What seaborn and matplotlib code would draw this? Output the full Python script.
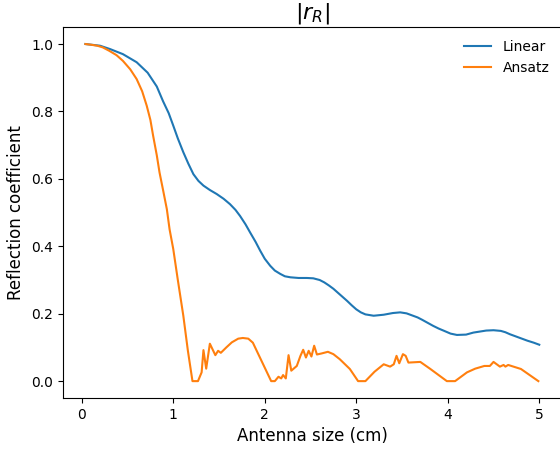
import numpy as np
import pandas as pd
import matplotlib
matplotlib.use("Agg")
from matplotlib import pyplot as plt
import seaborn as sns

# values
linear_x = [0.04, 0.2, 0.31, 0.45, 0.6, 0.72, 0.82, 0.889, 0.95, 1.0, 1.05, 1.11, 1.165, 1.22,
            1.275, 1.33, 1.4, 1.475, 1.55, 1.62, 1.68, 1.73, 1.79, 1.84, 1.9, 1.95, 2.0, 2.06,
            2.11, 2.17, 2.22, 2.28, 2.37, 2.46, 2.53, 2.6, 2.65, 2.7, 2.75, 2.8, 2.85, 2.9,
            2.95, 3.0, 3.05, 3.1, 3.19, 3.3, 3.4, 3.48, 3.55, 3.62, 3.67, 3.72, 3.78, 3.84,
            3.9, 3.97, 4.03, 4.1, 4.2, 4.28, 4.35, 4.42, 4.5, 4.58, 4.63, 4.68, 4.74, 4.8,
            4.87, 4.94, 5.0]
linear_y = [1.0, 0.995, 0.985, 0.97, 0.946, 0.915, 0.874, 0.830, 0.795, 0.758, 0.72, 0.679,
            0.645, 0.614, 0.594, 0.580, 0.567, 0.555, 0.541, 0.525, 0.508, 0.49, 0.465, 0.441,
            0.413, 0.387, 0.363, 0.342, 0.328, 0.318, 0.311, 0.308, 0.306, 0.306, 0.305, 0.300,
            0.293, 0.284, 0.274, 0.262, 0.25, 0.238, 0.225, 0.213, 0.204, 0.198, 0.194, 0.197,
            0.202, 0.204, 0.201, 0.194, 0.189, 0.182, 0.173, 0.164, 0.156, 0.148, 0.141, 0.137,
            0.138, 0.144, 0.147, 0.150, 0.151, 0.149, 0.145, 0.139, 0.133, 0.127, 0.120, 0.114,
            0.108]

ansatz_x = [0.04, 0.1, 0.17, 0.23, 0.3, 0.38, 0.45, 0.53, 0.6, 0.66, 0.71, 0.75, 0.78, 0.82,
            0.85, 0.89, 0.93, 0.96, 1.0, 1.05, 1.11, 1.16, 1.21, 1.27, 1.31, 1.33, 1.36, 1.4,
            1.46, 1.49, 1.52, 1.58, 1.64, 1.71, 1.76, 1.82, 1.87, 2.07, 2.11, 2.15, 2.18, 2.2,
            2.23, 2.26, 2.29, 2.35, 2.39, 2.42, 2.45, 2.48, 2.51, 2.54, 2.57, 2.62, 2.69, 2.75,
            2.82, 2.93, 3.02, 3.1, 3.2, 3.3, 3.37, 3.41, 3.44, 3.47, 3.51, 3.54, 3.57, 3.7,
            3.81, 3.99, 4.08, 4.21, 4.3, 4.4, 4.46, 4.5, 4.57, 4.61, 4.63, 4.66, 4.8, 4.99]
ansatz_y = [1.0, 0.998, 0.995, 0.99, 0.98, 0.967, 0.95, 0.925, 0.896, 0.86, 0.817, 0.775,
            0.728, 0.67, 0.619, 0.565, 0.51, 0.45, 0.392, 0.30, 0.194, 0.09, 0.0, 0.0, 0.026,
            0.092, 0.037, 0.111, 0.077, 0.09, 0.084, 0.10, 0.115, 0.126, 0.128, 0.126, 0.114,
            0.0, 0.0, 0.013, 0.008, 0.018, 0.008, 0.077, 0.031, 0.045, 0.075, 0.093, 0.07, 0.09,
            0.073, 0.105, 0.079, 0.082, 0.087, 0.08, 0.065, 0.036, 0.0, 0.0, 0.028, 0.05, 0.043,
            0.05, 0.075, 0.053, 0.08, 0.075, 0.055, 0.057, 0.036, 0.0, 0.0, 0.026, 0.037, 0.045,
            0.045, 0.057, 0.043, 0.048, 0.043, 0.048, 0.036, 0.0]

fig = plt.figure(figsize=(5.6, 4.5), dpi=100)
ax = fig.add_axes([0.112, 0.1156, 0.8915, 0.824])

sns.lineplot(x=linear_x, y=linear_y, label="Linear", color="C0", ax=ax)
sns.lineplot(x=ansatz_x, y=ansatz_y, label="Ansatz", color="C1", ax=ax)

ax.set_title(r"$|r_R|$", fontsize=16)
ax.set_xlabel("Antenna size (cm)", fontsize=12)
ax.set_ylabel("Reflection coefficient", fontsize=12)
ax.legend(loc="upper right", frameon=False)

plt.savefig("out.png", dpi=100)
